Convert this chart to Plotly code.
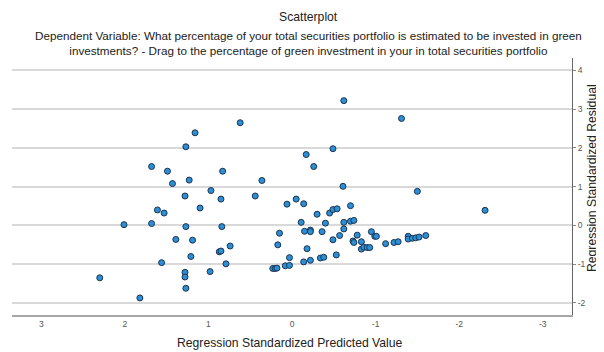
import plotly.graph_objects as go

# Regression Standardized Predicted Value (x) and Standardized Residual (y)
pred = [0.62, 1.16, 1.27, 1.68, 1.49, 0.83, 1.43, 1.23, 0.36, 0.97,
        1.28, 0.85, 0.44, 0.06, -0.05, 1.10, 1.61, 1.53, 2.01, 1.68,
        1.27, 0.84, -0.11, 0.15, 1.39, 1.19, 0.17, 0.74, 0.87, 0.85,
        1.21, 0.03, 1.56, 0.79, 0.08, 0.03, 0.23, 0.20, 0.18, 1.28,
        1.28, 0.98, 2.30, 1.27, 1.82,
        -0.62, -1.31, -0.49, -0.17, -0.26, -0.61, -1.50, -2.31, -0.14, -0.70,
        -0.30, -0.45, -0.49, -0.54, -0.40, -0.62, -0.70, -0.74, -0.62, -0.15,
        -0.22, -0.22, -0.36, -0.95, -0.78, -0.57, -0.49, -0.99, -1.01, -0.73,
        -0.74, -0.83, -0.18, -0.83, -0.86, -0.90, -0.93, -1.12, -1.22, -1.27,
        -1.39, -1.39, -1.44, -1.48, -1.52, -1.60, -0.53, -0.34, -0.38, -0.14,
        -0.22]
resid = [2.65, 2.39, 2.03, 1.52, 1.40, 1.40, 1.08, 1.17, 1.16, 0.90,
         0.76, 0.68, 0.76, 0.55, 0.68, 0.45, 0.40, 0.32, 0.02, 0.05,
         -0.03, -0.03, 0.08, -0.20, -0.36, -0.38, -0.50, -0.53, -0.68, -0.66,
         -0.80, -0.83, -0.96, -0.99, -1.04, -1.03, -1.11, -1.11, -1.10, -1.21,
         -1.33, -1.19, -1.35, -1.62, -1.87,
         3.22, 2.76, 1.98, 1.83, 1.52, 1.01, 0.88, 0.39, 0.56, 0.51,
         0.29, 0.32, 0.41, 0.43, 0.06, 0.08, 0.11, 0.13, -0.09, -0.15,
         -0.12, -0.16, -0.16, -0.16, -0.25, -0.26, -0.37, -0.28, -0.28, -0.40,
         -0.44, -0.42, -0.60, -0.61, -0.56, -0.57, -0.57, -0.47, -0.44, -0.42,
         -0.28, -0.35, -0.33, -0.32, -0.30, -0.26, -0.76, -0.84, -0.82, -0.94,
         -0.90]

x_ticks = [3, 2, 1, 0, -1, -2, -3]
y_ticks = [4, 3, 2, 1, 0, -1, -2]

title_text = "Scatterplot"
subtitle_lines = [
    "Dependent Variable: What percentage of your total securities portfolio is estimated to be invested in green",
    "investments? - Drag to the percentage of green investment in your in total securities portfolio",
]
x_title = "Regression Standardized Predicted Value"
y_title = "Regression Standardized Residual"

FONT = "Liberation Sans, Arial, sans-serif"
# the page body adds an 8px margin, so the figure is 8px smaller on each side
W, H = 596, 344
L, R, T, B = 4, 32, 50, 37
PW, PH = W - L - R, H - T - B


def px(x):
    return (x - L) / PW


def py(y):
    return (H - B - y) / PH


fig = go.Figure(go.Scatter(
    x=pred, y=resid, mode="markers",
    marker=dict(size=6, color="#2b8fd6", line=dict(color="#1c3350", width=1)),
    hoverinfo="x+y", showlegend=False))

ann = dict(xref="paper", yref="paper", showarrow=False, xanchor="center", yanchor="middle")
TF = dict(size=12.2, color="#222")
SF = dict(size=11.7, color="#222")
fig.update_layout(
    width=W, height=H,
    margin=dict(l=L, r=R, t=T, b=B, autoexpand=False),
    paper_bgcolor="white", plot_bgcolor="white",
    font=dict(family=FONT, color="#222"),
    annotations=[
        dict(text=title_text, x=px(300), y=py(9), font=TF, **ann),
        dict(text="<br>".join(subtitle_lines), x=px(300), y=py(34.5), font=SF,
             align="center", **ann),
        dict(text=x_title, x=px(282), y=py(335), font=TF, **ann),
        dict(text=y_title, x=px(584), y=py(170), textangle=-90, font=TF, **ann),
    ],
)

fig.update_xaxes(
    range=[3.35, -3.35], tickvals=x_ticks, ticktext=[str(v) for v in x_ticks],
    showgrid=False, zeroline=False, automargin=False,
    showline=True, linecolor="#a6a6a6", linewidth=2, mirror=False,
    ticks="inside", ticklen=0, tickcolor="white", ticklabelstandoff=0,
    tickfont=dict(size=8.5, color="#555"),
)
fig.update_yaxes(
    range=[-2.31, 4.32], side="right", tickvals=y_ticks, ticktext=[str(v) for v in y_ticks],
    showgrid=True, gridcolor="#d9d9d9", gridwidth=1.5, zeroline=False, automargin=False,
    showline=True, linecolor="#666", linewidth=1,
    ticks="outside", ticklen=3, tickcolor="#888", tickfont=dict(size=8.5, color="#555"),
)

fig.write_html("out.html")
